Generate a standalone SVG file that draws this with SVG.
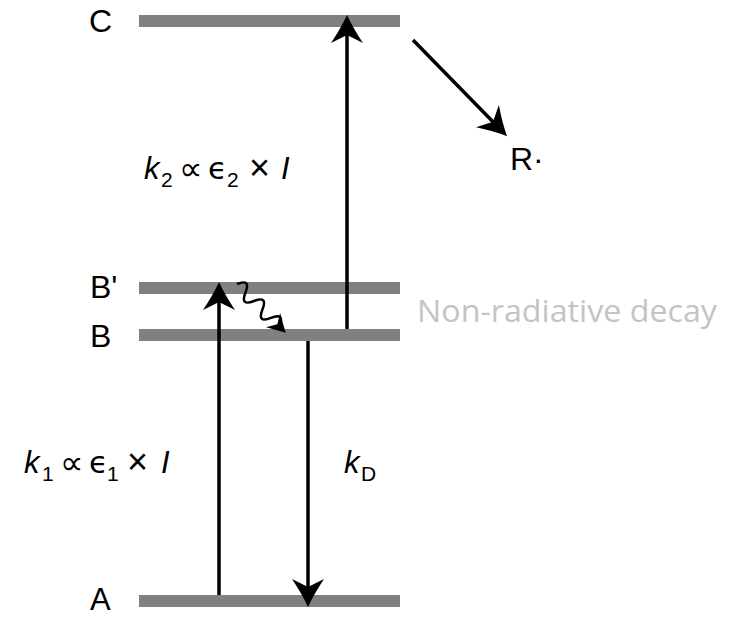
<svg xmlns="http://www.w3.org/2000/svg" width="733" height="617" viewBox="0 0 733 617">
<defs>
<style>
.bar{fill:#808080;}
.lbl{font-family:"Liberation Sans","DejaVu Sans",sans-serif;font-size:31px;fill:#000;}
.big{font-size:32px;}
.it{font-style:italic;}
.sub{font-size:21px;font-style:normal;}
.sym{font-family:"DejaVu Sans","Liberation Sans",sans-serif;}
.prop{font-size:33px;}
.times{font-size:36px;}
.gray{font-family:"Open Sans","Noto Sans",sans-serif;font-size:31px;fill:#c4c4c4;}
.shaft{stroke:#000;stroke-width:3.5;fill:none;}
.wave{stroke:#000;stroke-width:2.5;fill:none;stroke-linejoin:round;}
</style>
<marker id="ah" markerUnits="userSpaceOnUse" viewBox="-30 -20 42 40" refX="-10" refY="0" markerWidth="42" markerHeight="40" orient="auto">
<path d="M0,0 Q-13,-6 -28,-16 L-20,0 L-28,16 Q-13,6 0,0 Z" fill="#000"/>
</marker>
<marker id="ahs" markerUnits="userSpaceOnUse" viewBox="-20 -12 26 24" refX="-5" refY="0" markerWidth="26" markerHeight="24" orient="auto">
<path d="M0,0 Q-8,-4 -18,-10 L-12,0 L-18,10 Q-8,4 0,0 Z" fill="#000"/>
</marker>
</defs>
<rect width="733" height="617" fill="#fff"/>

<g id="level-C">
<rect class="bar" x="139" y="15" width="261" height="12"/>
<text class="lbl big" x="89" y="32">C</text>
</g>
<g id="level-Bprime">
<rect class="bar" x="139" y="282" width="261" height="12"/>
<text class="lbl big" x="90" y="298">B'</text>
</g>
<g id="level-B">
<rect class="bar" x="139" y="329" width="261" height="12"/>
<text class="lbl big" x="90" y="347">B</text>
</g>
<g id="level-A">
<rect class="bar" x="139" y="595" width="261" height="12"/>
<text class="lbl" x="90" y="610">A</text>
</g>
<g id="product-R">
<text class="lbl big" x="510" y="170">R·</text>
</g>
<g id="label-k2">
<text class="lbl"><tspan class="it" x="144" y="179">k</tspan><tspan class="sub" x="161" y="187">2</tspan><tspan class="sym prop" x="179" y="180">∝</tspan><tspan class="sym" x="208" y="179">ϵ</tspan><tspan class="sub" x="227" y="187">2</tspan><tspan class="times" x="249" y="180">×</tspan><tspan class="it" x="281" y="179">I</tspan></text>
</g>
<g id="label-k1">
<text class="lbl"><tspan class="it" x="24" y="473">k</tspan><tspan class="sub" x="42" y="481">1</tspan><tspan class="sym prop" x="60" y="474">∝</tspan><tspan class="sym" x="89" y="473">ϵ</tspan><tspan class="sub" x="107" y="481">1</tspan><tspan class="times" x="127" y="474">×</tspan><tspan class="it" x="161" y="473">I</tspan></text>
</g>
<g id="label-kD">
<text class="lbl"><tspan class="it" x="344" y="473">k</tspan><tspan class="sub" x="361" y="481">D</tspan></text>
</g>
<g id="label-nonrad">
<text class="gray" x="417" y="322" textLength="300" lengthAdjust="spacingAndGlyphs">Non-radiative decay</text>
</g>

<g id="connectors">
<line class="shaft" x1="219" y1="595" x2="219" y2="292" marker-end="url(#ah)"/>
<line class="shaft" x1="347" y1="329" x2="347" y2="25" marker-end="url(#ah)"/>
<line class="shaft" x1="308" y1="341" x2="308" y2="597" marker-end="url(#ah)"/>
<line class="shaft" x1="413" y1="40" x2="500" y2="129" marker-end="url(#ah)"/>
<g transform="translate(237,284) rotate(45)">
<path class="wave" d="M0,0 Q6,-14 12,0 T24,0 T36,0 T48,0 T60,0 L64,0" marker-end="url(#ahs)"/>
</g>
</g>
</svg>
